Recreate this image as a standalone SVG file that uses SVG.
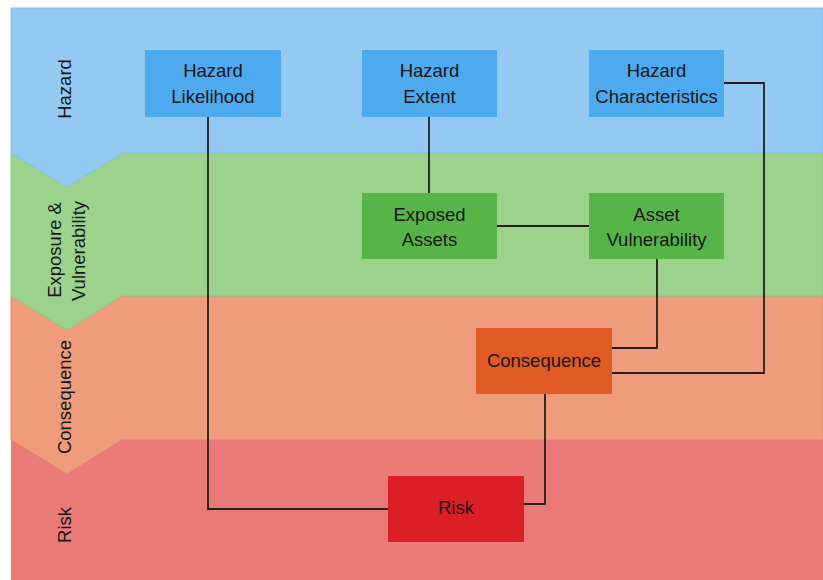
<svg xmlns="http://www.w3.org/2000/svg" width="823" height="580" viewBox="0 0 823 580">
  <style>
    .band-label { font-family: "Liberation Sans", Arial, sans-serif; font-size: 18.5px; fill: #161616; text-anchor: middle; }
    .node-label { font-family: "Liberation Sans", Arial, sans-serif; font-size: 18.5px; fill: #161616; text-anchor: middle; }
    .hazard rect { fill: #4eaaee; }
    .exposure rect { fill: #57b447; }
    .conseq rect { fill: #e05a24; }
    .risk rect { fill: #dc1f24; }
    .conn { fill: none; stroke: #241d1c; stroke-width: 1.8; }
  </style>

  <!-- Swim bands, drawn bottom-up so each chevron overlaps the band below -->
  <g id="bands">
    <rect x="11" y="440" width="812" height="140" fill="#ea7a78"/>
    <polygon points="11,296 823,296 823,440 122,440 67,474 11,440" fill="#ee9c7b" stroke="#e4826a" stroke-width="1"/>
    <polygon points="11,153 823,153 823,296 122,296 67,330 11,296" fill="#9bd28c" stroke="#8cc97c" stroke-width="1"/>
    <polygon points="11,8 823,8 823,153 123,153 67,187 11,153" fill="#94c9f2" stroke="#86bfe9" stroke-width="1"/>
  </g>

  <!-- Band titles -->
  <g id="band-titles">
    <text class="band-label" transform="translate(71,89) rotate(-90)">Hazard</text>
    <text class="band-label" transform="translate(61,250) rotate(-90)">Exposure &amp;</text>
    <text class="band-label" transform="translate(85,251) rotate(-90)">Vulnerability</text>
    <text class="band-label" transform="translate(71,397) rotate(-90)">Consequence</text>
    <text class="band-label" transform="translate(71,525) rotate(-90)">Risk</text>
  </g>

  <!-- Connectors -->
  <g id="connectors">
    <polyline class="conn" points="208,117 208,509 388,509"/>
    <polyline class="conn" points="429,117 429,193"/>
    <polyline class="conn" points="497,226 589,226"/>
    <polyline class="conn" points="657,259 657,348 612,348"/>
    <polyline class="conn" points="724,83 764,83 764,373 612,373"/>
    <polyline class="conn" points="545,394 545,504 524,504"/>
  </g>

  <!-- Nodes -->
  <g id="hazard-likelihood" class="hazard">
    <rect x="145" y="50" width="136" height="67"/>
    <text class="node-label" x="213" y="77">Hazard</text>
    <text class="node-label" x="213" y="103">Likelihood</text>
  </g>
  <g id="hazard-extent" class="hazard">
    <rect x="362" y="50" width="135" height="67"/>
    <text class="node-label" x="429.5" y="77">Hazard</text>
    <text class="node-label" x="429.5" y="103">Extent</text>
  </g>
  <g id="hazard-characteristics" class="hazard">
    <rect x="589" y="50" width="135" height="67"/>
    <text class="node-label" x="656.5" y="77">Hazard</text>
    <text class="node-label" x="656.5" y="103">Characteristics</text>
  </g>
  <g id="exposed-assets" class="exposure">
    <rect x="362" y="193" width="135" height="66"/>
    <text class="node-label" x="429.5" y="221">Exposed</text>
    <text class="node-label" x="429.5" y="246">Assets</text>
  </g>
  <g id="asset-vulnerability" class="exposure">
    <rect x="589" y="193" width="135" height="66"/>
    <text class="node-label" x="656.5" y="221">Asset</text>
    <text class="node-label" x="656.5" y="246">Vulnerability</text>
  </g>
  <g id="consequence" class="conseq">
    <rect x="476" y="328" width="136" height="66"/>
    <text class="node-label" x="544" y="367">Consequence</text>
  </g>
  <g id="risk" class="risk">
    <rect x="388" y="476" width="136" height="66"/>
    <text class="node-label" x="456" y="514">Risk</text>
  </g>
</svg>
